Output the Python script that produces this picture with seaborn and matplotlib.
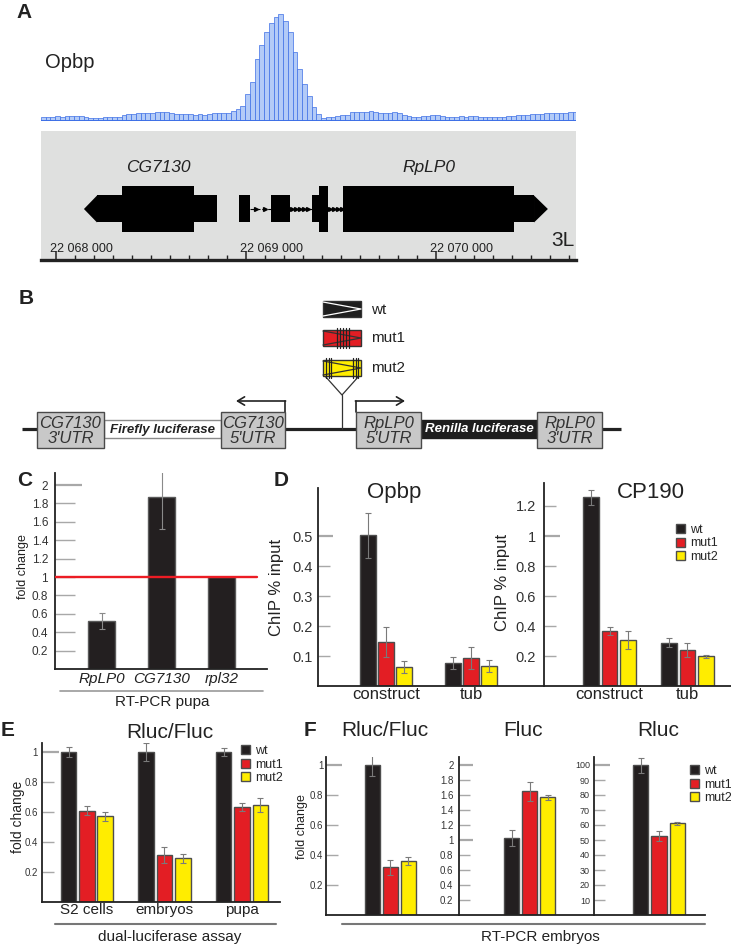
import numpy as np
import pandas as pd
import matplotlib.pyplot as plt
import seaborn as sns
from matplotlib.patches import Rectangle, Polygon
from matplotlib.lines import Line2D
from matplotlib.ticker import MultipleLocator, FuncFormatter, FixedLocator
from matplotlib.transforms import ScaledTranslation

sns.set_style("white")
plt.rcParams['font.family'] = ['Liberation Sans', 'DejaVu Sans']

# ---------------- data ----------------
# A: Opbp ChIP signal on chr3L, 25 bp bins starting at 22 067 921
cov_start = 22067921
cov_bin = 25
opbp_cov = [4, 4, 4, 4.5, 4, 4.5, 4.5, 5, 5, 3.5,
            3, 3, 3, 3.5, 3.5, 3.5, 4, 6, 7, 7,
            8, 8, 8, 8, 8.5, 8.5, 8.5, 8, 7, 6.5,
            7, 6.5, 6, 6.5, 6, 6.5, 7.5, 7.5, 7.5, 7.5,
            9.5, 12, 15, 27, 39, 62, 76, 89, 98, 104,
            107, 100, 89, 69, 52, 37, 25, 14, 7, 3,
            4, 4, 5, 6, 6, 8.5, 9, 9, 9, 9.5,
            9, 8, 8, 8, 8.5, 8, 6, 4.5, 4, 4,
            5, 5, 5.5, 5.5, 4.5, 4, 4, 4, 4.5, 4,
            5, 4.5, 4, 4, 3.5, 3.5, 3.5, 4, 4.5, 5,
            5.5, 6, 6, 6.5, 7, 7, 7.5, 7.5, 7.5, 8,
            8, 8.5, 8.5]
region = (22067921, 22070737)

# gene models (genomic coordinates)
cg7130_utr = [(22068216, 22068347), (22068726, 22068847)]
cg7130_cds = [(22068347, 22068726)]
cg7130_tip = (22068147, 22068216)
rplp0_utr = [(22068963, 22069021), (22069132, 22069232), (22069347, 22069384), (22070411, 22070516)]
rplp0_cds = [(22069384, 22069432), (22069511, 22070411)]
rplp0_tip = (22070516, 22070589)
rplp0_introns = [(22069021, 22069132), (22069232, 22069347), (22069432, 22069511)]

variants = ['wt', 'mut1', 'mut2']
var_colors = {'wt': '#231f20', 'mut1': '#e31e24', 'mut2': '#ffed00'}

# C: RT-PCR pupa
c_genes = ['RpLP0', 'CG7130', 'rpl32']
c_fold = [0.52, 1.87, 1.0]
c_err = [0.09, 0.35, 0.0]

# D: ChIP % input
d_regions = ['construct', 'tub']
opbp_chip = {'wt': [0.503, 0.077], 'mut1': [0.147, 0.093], 'mut2': [0.063, 0.067]}
opbp_err = {'wt': [0.075, 0.02], 'mut1': [0.05, 0.037], 'mut2': [0.02, 0.02]}
cp190_chip = {'wt': [1.26, 0.287], 'mut1': [0.367, 0.24], 'mut2': [0.307, 0.2]}
cp190_err = {'wt': [0.05, 0.03], 'mut1': [0.025, 0.045], 'mut2': [0.06, 0.01]}

# E: dual-luciferase assay
e_samples = ['S2 cells', 'embryos', 'pupa']
e_ratio = {'wt': [1.0, 1.0, 1.0], 'mut1': [0.607, 0.313, 0.633], 'mut2': [0.573, 0.293, 0.647]}
e_err = {'wt': [0.035, 0.06, 0.025], 'mut1': [0.03, 0.055, 0.025], 'mut2': [0.03, 0.03, 0.045]}

# F: RT-PCR embryos
f_cat = ['embryos']
f_rf = {'wt': [1.0], 'mut1': [0.32], 'mut2': [0.36]}
f_rf_err = {'wt': [0.075], 'mut1': [0.05], 'mut2': [0.025]}
f_fluc = {'wt': [1.027], 'mut1': [1.65], 'mut2': [1.57]}
f_fluc_err = {'wt': [0.11], 'mut1': [0.13], 'mut2': [0.035]}
f_rluc = {'wt': [100], 'mut1': [52.7], 'mut2': [61.3]}
f_rluc_err = {'wt': [5], 'mut1': [3.5], 'mut2': [1]}

# ---------------- helpers ----------------
W, H = 731, 944
fig = plt.figure(figsize=(W / 100, H / 100), dpi=100)


def px_axes(x0, y0, x1, y1):
    ax = fig.add_axes([x0 / W, 1 - y1 / H, (x1 - x0) / W, (y1 - y0) / H])
    ax.patch.set_alpha(0)
    return ax


def ftext(x, y, s, **kw):
    kw.setdefault('ha', 'center')
    kw.setdefault('va', 'center')
    fig.text(x / W, 1 - y / H, s, **kw)


def fline(x0, x1, y, **kw):
    fig.add_artist(Line2D([x0 / W, x1 / W], [1 - y / H, 1 - y / H], transform=fig.transFigure, **kw))


def ylabel_at(ax, text, x, y, fs):
    ax.set_ylabel(text, fontsize=fs, va='center', color='#222')
    pos = ax.get_position()
    ax.yaxis.set_label_coords((x / W - pos.x0) / pos.width, ((1 - y / H) - pos.y0) / pos.height)


def bars(ax, cats, vals, errs, width, gap):
    df = pd.DataFrame([(c, v, vals[v][i]) for v in variants for i, c in enumerate(cats)],
                      columns=['cat', 'variant', 'val'])
    sns.barplot(data=df, x='cat', y='val', hue='variant', order=cats, hue_order=variants,
                palette=var_colors, saturation=1, width=width, gap=gap, edgecolor='#4d4d4d',
                linewidth=1, errorbar=None, legend=False, ax=ax)
    for v, cont in zip(variants, ax.containers):
        for bar, e in zip(cont, errs[v]):
            ax.errorbar(bar.get_x() + bar.get_width() / 2, bar.get_height(), yerr=e, fmt='none',
                        ecolor='#7a7a7a', elinewidth=0.8, capsize=2.5, capthick=0.8, zorder=5)


def style(ax, xlim, ylim, ticks, black=(), fs=8, tlen=12, blen=16, pad=3, xfs=11, xpad=1):
    ax.set_xlim(*xlim)
    ax.set_ylim(*ylim)
    sns.despine(ax=ax)
    for s in ('left', 'bottom'):
        ax.spines[s].set_linewidth(1.3)
        ax.spines[s].set_color('#222')
    ax.yaxis.set_major_locator(FixedLocator(ticks))
    ax.yaxis.set_major_formatter(FuncFormatter(lambda v, p: f'{v:g}'))
    ax.tick_params(axis='y', left=True, direction='in', length=tlen * 0.72, width=1, color='#a8a8a8',
                   labelsize=fs, labelcolor='#333', pad=pad)
    ax.tick_params(axis='x', length=0, labelsize=xfs, pad=xpad, labelcolor='#222')
    ax.set_xlabel('')
    ax.set_ylabel('')
    for t, v in zip(ax.yaxis.get_major_ticks(), ticks):
        if any(abs(v - b) < 1e-9 for b in black):
            t.tick1line.set_color('#111')
            t.tick1line.set_markersize(blen * 0.72)
            t.tick1line.set_markeredgewidth(1.6)


def legend_at(ax, x, y):
    handles = [Rectangle((0, 0), 1, 1, fc=var_colors[v], ec='#4d4d4d', lw=1) for v in variants]
    ax.legend(handles, variants, loc='upper left', bbox_to_anchor=(x / W, 1 - y / H),
              bbox_transform=fig.transFigure, frameon=False, borderpad=0, borderaxespad=0,
              handlelength=0.75, handleheight=0.75, handletextpad=0.35, labelspacing=0.12,
              fontsize=9)


# ---------------- A ----------------
ax_cov = px_axes(41, 10, 576, 121)
edges = [cov_start + cov_bin * i for i in range(len(opbp_cov) + 1)]
cov_df = pd.DataFrame({'pos': [e + cov_bin / 2 for e in edges[:-1]], 'signal': opbp_cov})
sns.histplot(data=cov_df, x='pos', weights='signal', bins=edges, color='#b3cbf7',
             edgecolor='#3d6fe6', linewidth=0.5, alpha=1, ax=ax_cov)
ax_cov.axhline(0, color='#3d6fe6', lw=1.4)
ax_cov.set_xlim(*region)
ax_cov.set_ylim(0, 111)
ax_cov.axis('off')
ftext(45, 62, 'Opbp', ha='left', fontsize=14.5, color='#222')

ax_g = px_axes(41, 131, 576, 260)
ax_g.patch.set_alpha(1)
ax_g.set_facecolor('#dfe0df')
ax_g.set_xlim(*region)
ax_g.set_ylim(260, 131)
yc, hw, hn = 209, 23, 13.5
for s, e in cg7130_cds + rplp0_cds:
    ax_g.add_patch(Rectangle((s, yc - hw), e - s, 2 * hw, color='black', lw=0))
for s, e in cg7130_utr + rplp0_utr:
    ax_g.add_patch(Rectangle((s, yc - hn), e - s, 2 * hn, color='black', lw=0))
ax_g.add_patch(Polygon([(cg7130_tip[0], yc), (cg7130_tip[1], yc - hn), (cg7130_tip[1], yc + hn)],
                       color='black', lw=0))
ax_g.add_patch(Polygon([(rplp0_tip[1], yc), (rplp0_tip[0], yc - hn), (rplp0_tip[0], yc + hn)],
                       color='black', lw=0))
for i, (s, e) in enumerate(rplp0_introns):
    ax_g.plot([s, e], [yc, yc], color='black', lw=0.8, ls='--' if i == 0 else '-')
    step = 50 if i == 0 else 20
    xs = np.arange(s + step * 0.6, e - 5, step)
    ax_g.plot(xs, np.full(len(xs), yc), ls='none', marker='>', ms=2.8, color='black')
ax_g.text(np.mean(cg7130_cds[0]), 168, 'CG7130', style='italic', ha='center', va='center',
          fontsize=12.5, color='#222')
ax_g.text(np.mean(rplp0_cds[1]), 168, 'RpLP0', style='italic', ha='center', va='center',
          fontsize=12.5, color='#222')
for s in ('top', 'left', 'right'):
    ax_g.spines[s].set_visible(False)
ax_g.spines['bottom'].set_linewidth(2.4)
ax_g.spines['bottom'].set_color('#222')
ax_g.set_yticks([])
ax_g.xaxis.set_major_locator(MultipleLocator(1000))
ax_g.xaxis.set_minor_locator(MultipleLocator(100))
ax_g.xaxis.set_major_formatter(FuncFormatter(lambda v, p: f'{int(v):,}'.replace(',', ' ')))
ax_g.tick_params(axis='x', which='major', bottom=True, direction='in', length=6.5, width=1.1,
                 color='#222', labelsize=9, pad=-12.5, labelcolor='#222')
ax_g.tick_params(axis='x', which='minor', bottom=True, direction='in', length=3.5, width=1,
                 color='#222')
for lbl in ax_g.get_xticklabels():
    lbl.set_ha('left')
    lbl.set_transform(lbl.get_transform() + ScaledTranslation(-0.06, 0, fig.dpi_scale_trans))
ftext(575, 240, '3L', ha='right', fontsize=15, color='#222')

# ---------------- B ----------------
ax_b = px_axes(0, 285, W, 455)
ax_b.set_xlim(0, W)
ax_b.set_ylim(455, 285)
ax_b.axis('off')
ax_b.plot([22, 621], [429, 429], color='#222', lw=2.3, solid_capstyle='butt', zorder=1)
construct_parts = [(37, 104, "CG7130\n3'UTR", 'utr'), (104, 221, 'Firefly luciferase', 'ff'),
                   (221, 285, "CG7130\n5'UTR", 'utr'), (356, 421, "RpLP0\n5'UTR", 'utr'),
                   (421, 537, 'Renilla luciferase', 'rl'), (537, 602, "RpLP0\n3'UTR", 'utr')]
for x0, x1, txt, kind in construct_parts:
    xm = (x0 + x1) / 2
    if kind == 'utr':
        ax_b.add_patch(Rectangle((x0, 412), x1 - x0, 36, fc='#c8c8c8', ec='#4a4a4a', lw=1, zorder=3))
        ax_b.text(xm, 431, txt, style='italic', ha='center', va='center', fontsize=12,
                  linespacing=0.95, color='#333', zorder=4)
    elif kind == 'ff':
        ax_b.add_patch(Rectangle((x0, 420), x1 - x0, 18, fc='white', ec='#8a8a8a', lw=1, zorder=2))
        ax_b.text(xm, 429.5, txt, style='italic', weight='bold', ha='center', va='center',
                  fontsize=9.5, color='#222', zorder=4)
    else:
        ax_b.add_patch(Rectangle((x0, 420), x1 - x0, 18, fc='#1e1e1e', ec='#1e1e1e', lw=1, zorder=2))
        ax_b.text(xm, 429.5, txt, style='italic', weight='bold', ha='center', va='center',
                  fontsize=9.5, color='white', zorder=4)
# promoter arrows
ax_b.plot([285, 285], [412, 401], color='#222', lw=1.2)
ax_b.annotate('', xy=(236, 401), xytext=(285.6, 401),
              arrowprops=dict(arrowstyle='->,head_length=0.5,head_width=0.3', lw=1.2, color='#222',
                              shrinkA=0, shrinkB=0))
ax_b.plot([356, 356], [412, 401], color='#222', lw=1.2)
ax_b.annotate('', xy=(405, 401), xytext=(355.4, 401),
              arrowprops=dict(arrowstyle='->,head_length=0.5,head_width=0.3', lw=1.2, color='#222',
                              shrinkA=0, shrinkB=0))
# insertion variants
ins_boxes = [('wt', 301, '#1e1e1e', 'white'), ('mut1', 330, '#e31e24', '#333'),
             ('mut2', 360, '#ffed00', '#333')]
bx0, bx1 = 323, 361
for name, y0, fc, lc in ins_boxes:
    ax_b.add_patch(Rectangle((bx0, y0), bx1 - bx0, 16, fc=fc, ec='#333', lw=1, zorder=3))
    ax_b.plot([bx0, bx1, bx0], [y0 + 1, y0 + 8, y0 + 15], color=lc, lw=0.9, zorder=4)
    ax_b.text(371, y0 + 8.5, name, ha='left', va='center', fontsize=11, color='#222')
    if name == 'mut1':
        for xv in (337, 340, 343, 346, 349):
            ax_b.plot([xv, xv], [y0 - 2, y0 + 18], color='#222', lw=0.9, zorder=5)
    if name == 'mut2':
        for xv in (326, 328.5, 331, 353, 355.5, 358):
            ax_b.plot([xv, xv], [y0 - 2, y0 + 18], color='#222', lw=0.9, zorder=5)
ax_b.plot([bx0 + 2, 342, bx1 - 2], [376, 395, 376], color='#333', lw=0.9)
ax_b.plot([342, 342], [395, 429], color='#333', lw=0.9)

# ---------------- C ----------------
ax_c = px_axes(55, 473, 267, 669)
sns.barplot(x=c_genes, y=c_fold, color='#231f20', saturation=1, width=0.45, edgecolor='#5a5a5a',
            linewidth=1, errorbar=None, ax=ax_c)
for bar, e in zip(ax_c.patches, c_err):
    if e > 0:
        ax_c.errorbar(bar.get_x() + bar.get_width() / 2, bar.get_height(), yerr=e, fmt='none',
                      ecolor='#8a8a8a', elinewidth=0.8, capsize=2.5, capthick=0.8, zorder=5)
style(ax_c, (-0.775, 2.758), (0, 196 / 92), np.round(np.arange(0.2, 2.01, 0.2), 1), black=(2,),
      fs=8.5, tlen=20, blen=27, pad=5, xfs=11, xpad=2)
ax_c.axhline(1, xmin=0, xmax=202 / 212, color='#ec1c24', lw=1.7, zorder=6)
for lbl in ax_c.get_xticklabels():
    lbl.set_style('italic')
ylabel_at(ax_c, 'fold change', 23, 567, 9)
fline(60, 263, 690.5, color='#999999', lw=1.2)
ftext(162, 702, 'RT-PCR pupa', fontsize=11, color='#222')

# ---------------- D ----------------
ax_d1 = px_axes(318, 488, 544, 686)
bars(ax_d1, d_regions, opbp_chip, opbp_err, width=0.635, gap=0.14)
style(ax_d1, (-0.8, 1.859), (0, 198 / 300), [0.1, 0.2, 0.3, 0.4, 0.5], black=(0.5,),
      fs=10.5, tlen=12, blen=15, pad=4, xfs=12, xpad=1)
ylabel_at(ax_d1, 'ChIP % input', 277, 587, 12)
ftext(394, 492, 'Opbp', fontsize=16, color='#222')

ax_d2 = px_axes(544, 483, 731, 686)
bars(ax_d2, d_regions, cp190_chip, cp190_err, width=0.705, gap=0.15)
style(ax_d2, (-0.84, 1.558), (0, 203 / 150), [0.2, 0.4, 0.6, 0.8, 1.0, 1.2], black=(1.0,),
      fs=10.5, tlen=12, blen=16, pad=6, xfs=12, xpad=1)
ylabel_at(ax_d2, 'ChIP % input', 502, 582, 12)
ftext(651, 492, 'CP190', fontsize=16, color='#222')
legend_at(ax_d2, 676, 524)

# ---------------- E ----------------
ax_e = px_axes(42, 743, 280, 902)
bars(ax_e, e_samples, e_ratio, e_err, width=0.708, gap=0.15)
style(ax_e, (-0.58, 2.49), (0, 159 / 150), [0.2, 0.4, 0.6, 0.8, 1.0], black=(1.0,),
      fs=7, tlen=12, blen=17, pad=3, xfs=11, xpad=1)
ylabel_at(ax_e, 'fold change', 18, 817, 10)
ftext(170, 732, 'Rluc/Fluc', fontsize=15, color='#222')
legend_at(ax_e, 241, 745)
fline(55, 276, 924, color='#777777', lw=1.5)
ftext(170, 937, 'dual-luciferase assay', fontsize=11, color='#222')

# ---------------- F ----------------
ax_f1 = px_axes(326, 757, 459, 915)
bars(ax_f1, f_cat, f_rf, f_rf_err, width=0.771, gap=0.167)
style(ax_f1, (-0.921, 0.979), (0, 158 / 150), [0.2, 0.4, 0.6, 0.8, 1.0], black=(1.0,),
      fs=7, tlen=12, blen=16, pad=2)
ax_f1.set_xticks([])
ylabel_at(ax_f1, 'fold change', 302, 827, 9)
ftext(385, 731, 'Rluc/Fluc', fontsize=15, color='#222')

ax_f2 = px_axes(459, 757, 594, 915)
bars(ax_f2, f_cat, f_fluc, f_fluc_err, width=0.771, gap=0.167)
style(ax_f2, (-1.007, 0.921), (0, 158 / 75), np.round(np.arange(0.2, 2.01, 0.2), 1), black=(1.0, 2.0),
      fs=7, tlen=11, blen=14, pad=4)
ax_f2.set_xticks([])
ftext(523, 731, 'Fluc', fontsize=15, color='#222')

ax_f3 = px_axes(594, 757, 705, 915)
bars(ax_f3, f_cat, f_rluc, f_rluc_err, width=0.79, gap=0.16)
style(ax_f3, (-0.929, 0.657), (0, 158 / 1.5), list(range(10, 101, 10)), black=(100,),
      fs=6.5, tlen=11, blen=16, pad=3)
ax_f3.set_xticks([])
ftext(658, 731, 'Rluc', fontsize=15, color='#222')
legend_at(ax_f3, 690, 765)
fline(342, 705, 924, color='#777777', lw=1.5)
ftext(540, 937, 'RT-PCR embryos', fontsize=11, color='#222')

# panel letters
for letter, x, y in [('A', 24, 12), ('B', 26, 299), ('C', 25, 480), ('D', 281, 480),
                     ('E', 8, 730), ('F', 310, 730)]:
    ftext(x, y, letter, fontsize=15, weight='bold', color='#222')

fig.savefig('out.png', dpi=100)
